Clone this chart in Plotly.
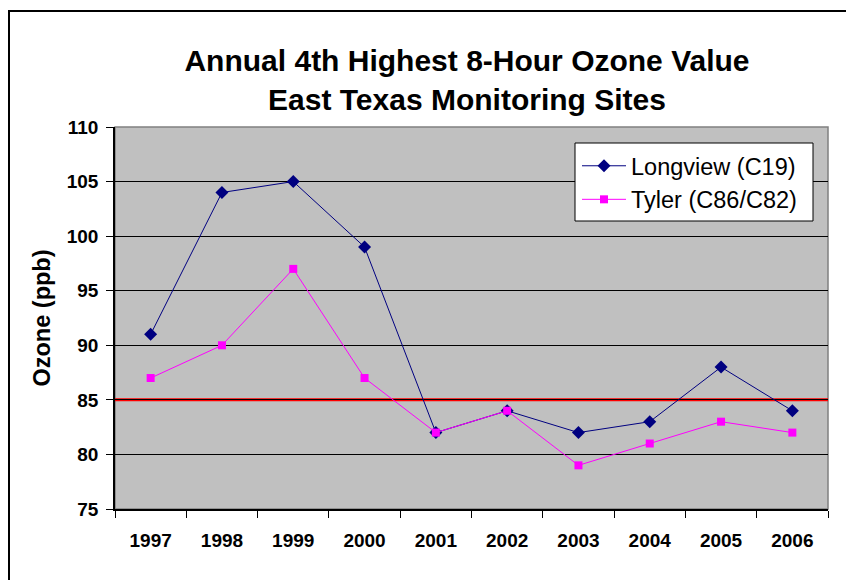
import plotly.graph_objects as go

years = ["1997", "1998", "1999", "2000", "2001", "2002", "2003", "2004", "2005", "2006"]
longview = [91, 104, 105, 99, 82, 84, 82, 83, 88, 84]
tyler = [87, 90, 97, 87, 82, 84, 79, 81, 83, 82]
standard = 85
y_ticks = [75, 80, 85, 90, 95, 100, 105, 110]

# page body has an 8px margin, so the figure is drawn 8px in from the window edge
OFF = 8
W, H = 854 - OFF, 580 - OFF
L, T = 115 - OFF, 127 - OFF
R = W - (828 - OFF)
B = H - (509 - OFF)
pw, ph = W - L - R, H - T - B

def px_x(px):
    return (px - OFF - L) / pw

def px_y(py):
    return (H - B - (py - OFF)) / ph

fig = go.Figure()
fig.add_trace(go.Scatter(
    x=years, y=longview, name="Longview (C19)", mode="lines+markers",
    line=dict(color="#000080", width=1),
    marker=dict(symbol="diamond", size=10, color="#000080"),
))
fig.add_trace(go.Scatter(
    x=years, y=tyler, name="Tyler (C86/C82)", mode="lines+markers",
    line=dict(color="#FF00FF", width=1),
    marker=dict(symbol="square", size=8, color="#FF00FF"),
))

# outer chart frame
fig.add_shape(type="rect", xref="paper", yref="paper",
              x0=px_x(9), x1=px_x(900),
              y0=px_y(620), y1=px_y(11),
              line=dict(color="black", width=2), layer="below")
# plot area border (grey)
fig.add_shape(type="rect", xref="paper", yref="paper", x0=0, x1=1, y0=0, y1=1,
              line=dict(color="#808080", width=1.5), layer="below")
# standard line
fig.add_shape(type="line", xref="paper", yref="y", x0=0, x1=1, y0=standard, y1=standard,
              line=dict(color="#FF0000", width=3), layer="between")
# legend box
fig.add_shape(type="rect", xref="paper", yref="paper",
              x0=px_x(575), x1=px_x(813), y0=px_y(221), y1=px_y(143),
              fillcolor="white", line=dict(color="black", width=1), layer="above")

fig.update_layout(
    width=W, height=H,
    margin=dict(l=L, r=R, t=T, b=B),
    paper_bgcolor="white",
    plot_bgcolor="#C0C0C0",
    font=dict(family="Arial, Liberation Sans, sans-serif", color="black"),
    title=dict(
        text="<b>Annual 4th Highest 8-Hour Ozone Value<br>East Texas Monitoring Sites</b>",
        x=px_x(467), xref="paper", xanchor="center",
        y=1 - (71 - OFF) / H, yref="container", yanchor="middle",
        font=dict(size=30, color="black"),
    ),
    xaxis=dict(
        type="category", range=[-0.5, 9.5],
        tickson="boundaries", ticks="outside", ticklen=7, tickcolor="black",
        showgrid=False, showline=True, linecolor="black", linewidth=1.5,
        tickfont=dict(size=19, weight="bold"), ticklabelstandoff=13,
        zeroline=False,
    ),
    yaxis=dict(
        range=[75, 110], tickvals=y_ticks,
        ticks="outside", ticklen=7, tickcolor="black",
        showgrid=True, gridcolor="black", gridwidth=1,
        showline=True, linecolor="black", linewidth=1.5,
        tickfont=dict(size=19, weight="bold"), ticklabelstandoff=4,
        title=dict(text="<b>Ozone (ppb)</b>", font=dict(size=23.5), standoff=10),
        zeroline=False,
    ),
    legend=dict(
        x=px_x(577), y=px_y(144), xanchor="left", yanchor="top",
        bgcolor="rgba(0,0,0,0)", borderwidth=0,
        font=dict(size=23.5, color="black"),
        itemwidth=44,
    ),
    showlegend=True,
)

fig.write_html("out.html")
